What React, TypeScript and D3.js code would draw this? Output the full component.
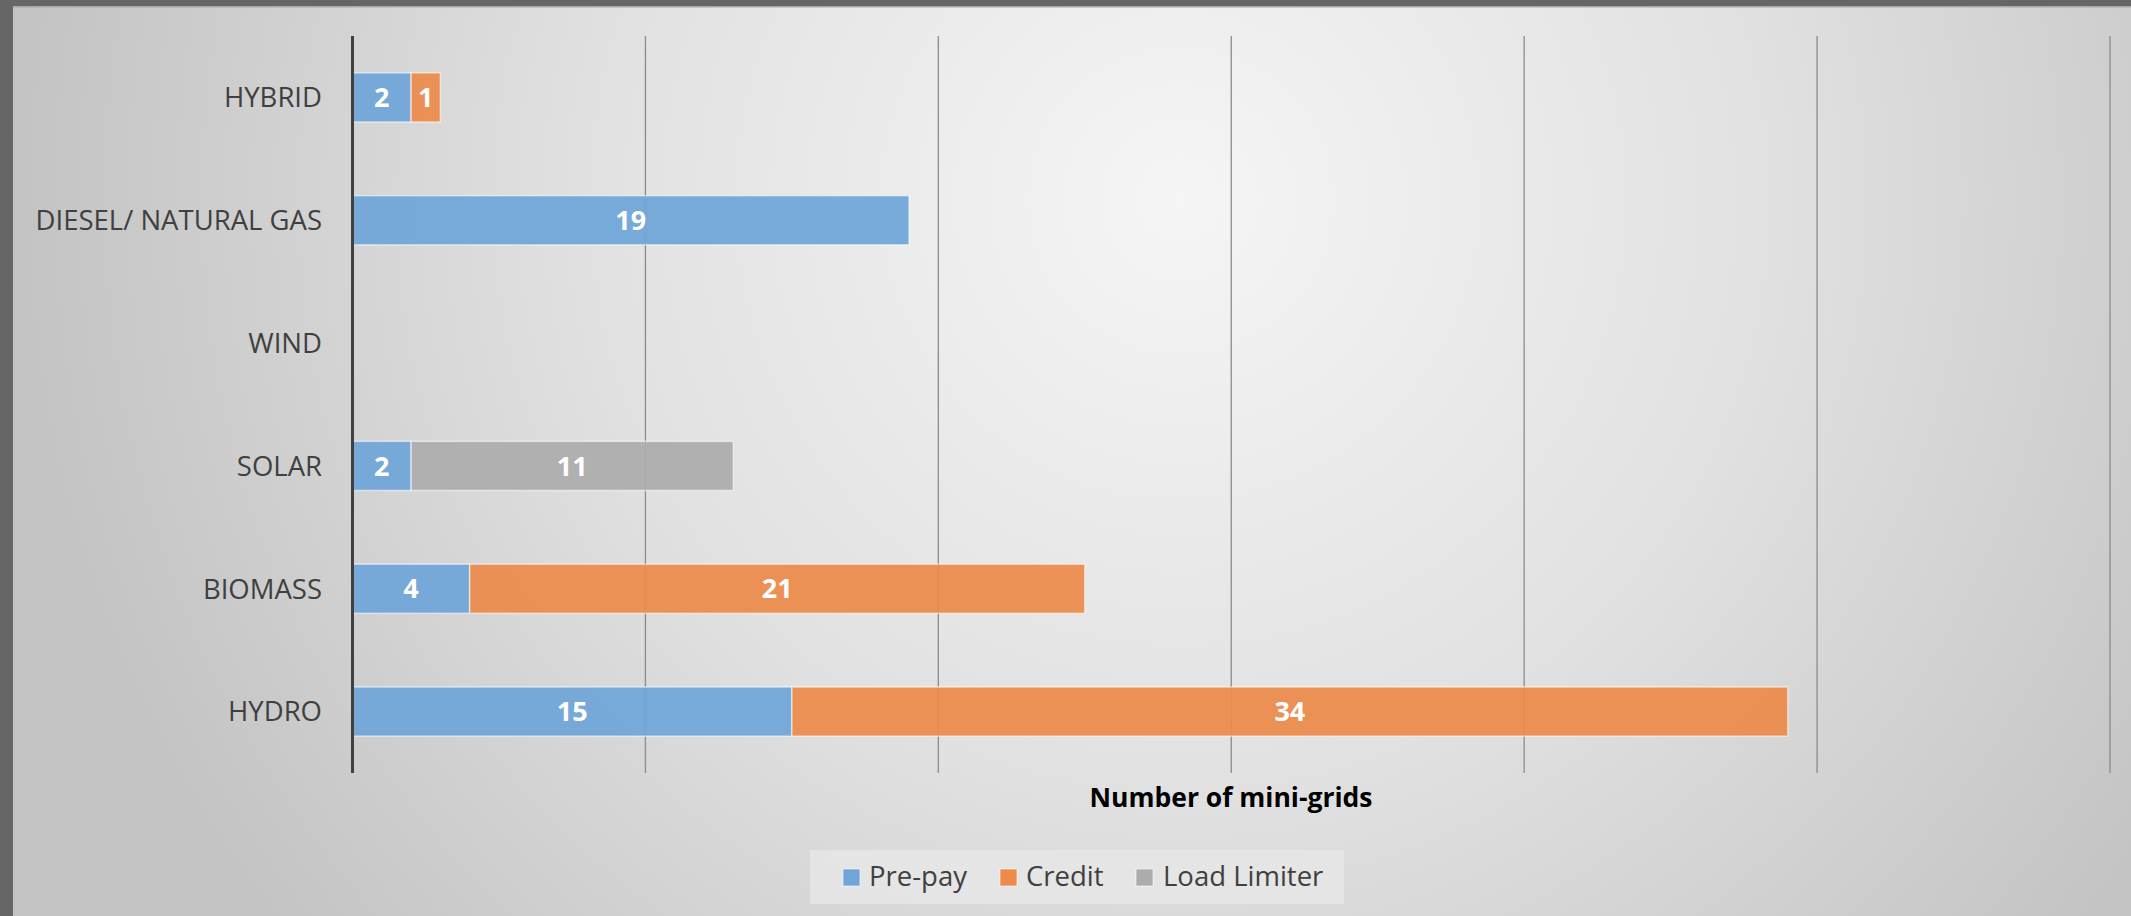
import React from "react";
import * as d3 from "d3";

const categories = ["HYBRID", "DIESEL/ NATURAL GAS", "WIND", "SOLAR", "BIOMASS", "HYDRO"];
const seriesNames = ["Pre-pay", "Credit", "Load Limiter"];
const prePay = [2, 19, 0, 2, 4, 15];
const credit = [1, 0, 0, 0, 21, 34];
const loadLimiter = [0, 0, 0, 11, 0, 0];
const xTicks = [0, 10, 20, 30, 40, 50, 60];
const colors = ["#6fa5d8", "#ec8b4a", "#acacac"];
const axisTitle = "Number of mini-grids";

const W = 2131;
const H = 916;

export default function App() {
  const x = d3.scaleLinear().domain([0, 60]).range([352.5, 2110]);
  const y = d3.scaleBand().domain(categories).range([36, 773]).paddingInner(0.6).paddingOuter(0.3);

  const rows = categories.map((c, i) => ({ cat: c, "Pre-pay": prePay[i], Credit: credit[i], "Load Limiter": loadLimiter[i] }));
  const stacked = d3.stack<any>().keys(seriesNames)(rows);

  const font = "'Open Sans', 'Noto Sans', sans-serif";

  const legendItems = [
    { name: "Pre-pay", sq: 843, tx: 869 },
    { name: "Credit", sq: 1000, tx: 1026 },
    { name: "Load Limiter", sq: 1136, tx: 1163 },
  ];

  return (
    <svg width={W} height={H} style={{ position: "absolute", left: 0, top: 0, display: "block" }}>
      <defs>
        <radialGradient id="bg" gradientUnits="userSpaceOnUse" cx={1180} cy={200} r={1170}>
          <stop offset="0" stopColor="#f5f5f5" />
          <stop offset="0.5" stopColor="#e1e1e1" />
          <stop offset="1" stopColor="#c3c3c3" />
        </radialGradient>
      </defs>
      <rect x={0} y={0} width={W} height={H} fill="url(#bg)" />
      <rect x={0} y={0} width={W} height={6} fill="#666666" />
      <rect x={0} y={0} width={13} height={H} fill="#666666" />
      <rect x={13} y={6} width={W - 13} height={1.5} fill="#a8a8a8" />

      {xTicks.slice(1).map((t) => (
        <line key={t} x1={x(t)} x2={x(t)} y1={36} y2={773} stroke="#8c8c8c" strokeWidth={1.3} />
      ))}

      {stacked.map((s, si) => (
        <g key={s.key}>
          {s.map((d, i) => {
            const v = d[1] - d[0];
            if (!v) return null;
            const bx = x(d[0]);
            const bw = x(d[1]) - x(d[0]);
            const by = y(categories[i])!;
            const bh = y.bandwidth();
            return (
              <g key={i}>
                <rect x={bx} y={by} width={bw} height={bh} fill={colors[si]} fillOpacity={0.93}
                  stroke="#ffffff" strokeOpacity={0.55} strokeWidth={1.5} />
                <text x={bx + bw / 2} y={by + bh / 2} dy="0.36em" textAnchor="middle" fill="#ffffff"
                  fontFamily={font} fontWeight={700} fontSize={27}>{v}</text>
              </g>
            );
          })}
        </g>
      ))}

      <line x1={352.5} x2={352.5} y1={36} y2={773} stroke="#404040" strokeWidth={3} />

      {categories.map((c) => (
        <text key={c} x={322} y={y(c)! + y.bandwidth() / 2} dy="0.36em" textAnchor="end" fill="#404040"
          fontFamily={font} fontSize={27.5}>{c}</text>
      ))}

      <text x={1231} y={807} textAnchor="middle" fill="#000000" fontFamily={font} fontWeight={700} fontSize={26.5}>{axisTitle}</text>

      <rect x={810} y={850} width={534} height={54} fill="#e6e6e6" fillOpacity={0.85} />
      {legendItems.map((it, i) => (
        <g key={it.name}>
          <rect x={it.sq} y={869} width={17} height={17} fill={colors[i]} stroke="#ffffff" strokeOpacity={0.6} strokeWidth={1} />
          <text x={it.tx} y={886} fill="#404040" fontFamily={font} fontSize={27.5}>{seriesNames[i]}</text>
        </g>
      ))}
    </svg>
  );
}
